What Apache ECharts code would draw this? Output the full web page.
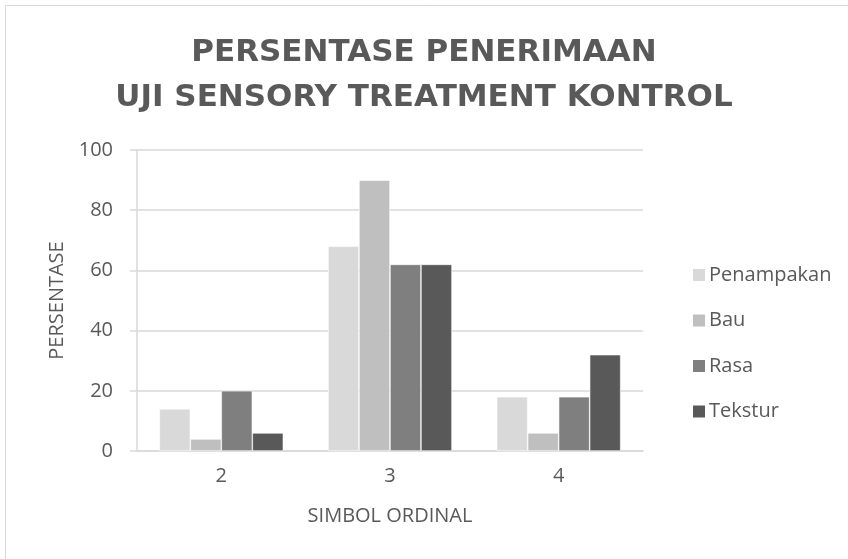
<!DOCTYPE html>
<html>
<head>
<meta charset="utf-8">
<script src="https://cdn.jsdelivr.net/npm/echarts@6/dist/echarts.min.js"></script>
<style>
  html, body { margin: 0; padding: 0; background: #fff; }
  #chart { width: 848px; height: 559px; }
</style>
</head>
<body>
<div id="chart"></div>
<script>
  // kategori simbol ordinal
  var categories = ['2', '3', '4'];
  var seriesNames = ['Penampakan', 'Bau', 'Rasa', 'Tekstur'];
  var penampakan = [14, 68, 18];
  var bau = [4, 90, 6];
  var rasa = [20, 62, 18];
  var tekstur = [6, 62, 32];
  var yTicks = [0, 20, 40, 60, 80, 100];

  var colors = ['#D9D9D9', '#BFBFBF', '#7F7F7F', '#595959'];
  var values = [penampakan, bau, rasa, tekstur];
  var font = '"Open Sans", sans-serif';
  var textColor = '#595959';

  var chart = echarts.init(document.getElementById('chart'));

  var series = [];
  for (var i = 0; i < seriesNames.length; i++) {
    series.push({
      name: seriesNames[i],
      type: 'bar',
      barGap: 0,
      barCategoryGap: '26.5%',
      itemStyle: { color: colors[i], borderColor: '#fff', borderWidth: 0.6 },
      data: values[i]
    });
  }

  var option = {
    animation: false,
    color: colors,
    title: {
      text: 'PERSENTASE PENERIMAAN\nUJI SENSORY TREATMENT KONTROL',
      left: 'center',
      top: 26,
      textStyle: {
        fontFamily: '"DejaVu Sans", sans-serif',
        fontWeight: 'bold',
        fontSize: 31,
        lineHeight: 44.5,
        color: textColor
      }
    },
    graphic: [{
      type: 'rect',
      shape: { x: 5.5, y: 5.5, width: 900, height: 600 },
      style: { fill: 'none', stroke: '#D9D9D9', lineWidth: 1 },
      silent: true
    }],
    legend: {
      orient: 'vertical',
      left: 686,
      top: 260,
      itemWidth: 14,
      itemHeight: 14,
      itemGap: 25.5,
      icon: 'rect',
      data: seriesNames,
      textStyle: { fontFamily: font, fontSize: 20, lineHeight: 20, color: textColor, padding: [0, 0, 0, -2] }
    },
    grid: {
      left: 137,
      right: 205,
      top: 150,
      bottom: 108
    },
    xAxis: {
      type: 'category',
      data: categories,
      name: 'SIMBOL ORDINAL',
      nameLocation: 'middle',
      nameGap: 55,
      nameTextStyle: { fontFamily: font, fontSize: 20, color: textColor },
      axisLine: { lineStyle: { color: '#D9D9D9', width: 1.5 } },
      axisTick: { show: false },
      axisLabel: { margin: 15, fontFamily: font, fontSize: 20, color: textColor }
    },
    yAxis: {
      type: 'value',
      min: yTicks[0],
      max: yTicks[yTicks.length - 1],
      interval: 20,
      name: 'PERSENTASE',
      nameLocation: 'middle',
      nameGap: 70,
      nameTextStyle: { fontFamily: font, fontSize: 20, color: textColor },
      axisLine: { show: true, lineStyle: { color: '#D9D9D9', width: 1.5 } },
      axisTick: { show: true, length: 7, lineStyle: { color: '#D9D9D9', width: 1.5 } },
      axisLabel: { margin: 24, fontFamily: font, fontSize: 20, color: textColor },
      splitLine: { lineStyle: { color: '#D9D9D9', width: 1.5 } }
    },
    series: series
  };

  chart.setOption(option);
</script>
</body>
</html>
